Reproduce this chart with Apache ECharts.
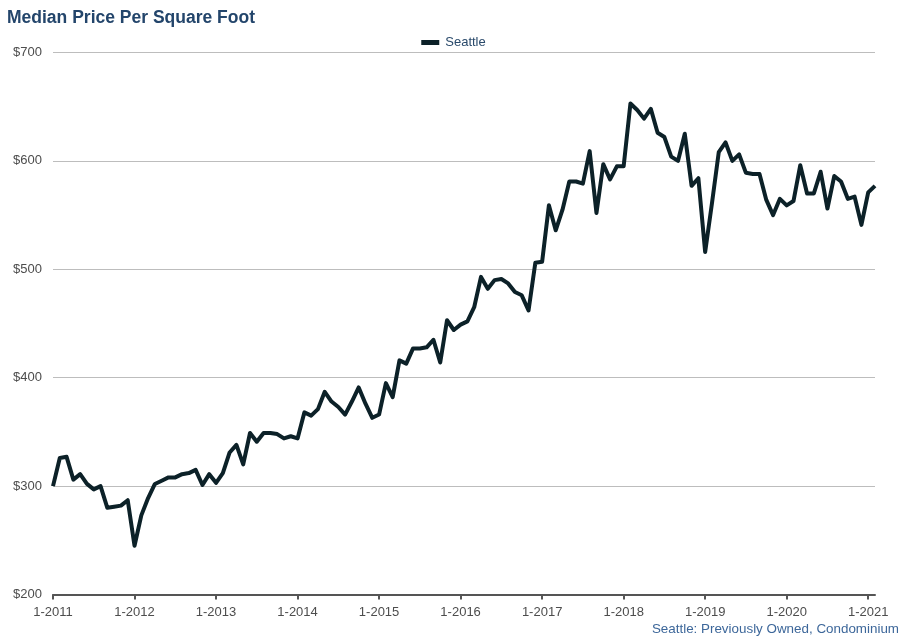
<!DOCTYPE html>
<html>
<head>
<meta charset="utf-8">
<script src="https://cdn.jsdelivr.net/npm/echarts@6/dist/echarts.min.js"></script>
<style>
html,body{margin:0;padding:0;background:#fff;}
#chart{width:907px;height:641px;}
</style>
</head>
<body>
<div id="chart"></div>
<script>
const tickLabels = ['1-2011','1-2012','1-2013','1-2014','1-2015','1-2016','1-2017','1-2018','1-2019','1-2020','1-2021'];
const startYear = 2011;
const v2011 = [300, 326, 327, 306, 311, 302, 297, 300, 280, 281, 282, 287];
const v2012 = [245, 273, 289, 302, 305, 308, 308, 311, 312, 315, 301, 311];
const v2013 = [303, 312, 331, 338, 320, 349, 341, 349, 349, 348, 344, 346];
const v2014 = [344, 368, 365, 371, 387, 378, 373, 366, 378, 391, 376, 363];
const v2015 = [366, 395, 382, 416, 413, 427, 427, 428, 435, 414, 453, 444];
const v2016 = [449, 452, 465, 493, 482, 490, 491, 487, 479, 476, 462, 506];
const v2017 = [507, 559, 536, 555, 581, 581, 579, 609, 552, 597, 583, 595];
const v2018 = [595, 653, 647, 639, 648, 626, 622, 604, 600, 625, 577, 584];
const v2019 = [516, 561, 608, 617, 600, 606, 589, 588, 588, 564, 550, 565];
const v2020 = [559, 563, 596, 570, 570, 590, 556, 586, 581, 565, 567, 541];
const v2021 = [571, 577];
const seriesName = 'Seattle';
const titleText = 'Median Price Per Square Foot';
const subtitleText = 'Seattle: Previously Owned, Condominium';

const values = [].concat(v2011, v2012, v2013, v2014, v2015, v2016, v2017, v2018, v2019, v2020, v2021);
const categories = values.map((_, i) => ((i % 12) + 1) + '-' + (startYear + Math.floor(i / 12)));
const isTick = (i) => tickLabels.indexOf(categories[i]) >= 0;

const chart = echarts.init(document.getElementById('chart'), null, {renderer: 'canvas'});
chart.setOption({
  animation: false,
  backgroundColor: '#fff',
  textStyle: {fontFamily: 'Liberation Sans, Arial, sans-serif'},
  title: [
    {text: titleText, left: 7, top: 9, padding: 0,
     textStyle: {fontSize: 17.5, fontWeight: 'bold', color: '#23456b', fontFamily: 'Liberation Sans, Arial, sans-serif'}},
    {text: subtitleText, right: 8, top: 623, padding: 0,
     textStyle: {fontSize: 13.4, fontWeight: 'normal', color: '#3d679a', fontFamily: 'Liberation Sans, Arial, sans-serif'}}
  ],
  legend: {
    data: [seriesName], top: 31, left: 'center',
    icon: 'rect', itemWidth: 18, itemHeight: 5, itemGap: 10,
    textStyle: {fontSize: 13, color: '#2a4a6b', padding: [0, 0, 0, 1]}
  },
  grid: {left: 53, right: 32, top: 52.5, bottom: 46.5, containLabel: false},
  xAxis: {
    type: 'category', data: categories, boundaryGap: false,
    axisLine: {show: true, lineStyle: {color: '#555', width: 2}},
    axisTick: {show: true, length: 5, lineStyle: {color: '#555', width: 2},
      interval: (i) => isTick(i)},
    axisLabel: {show: true, margin: 11, fontSize: 13, color: '#4d4d4d',
      interval: 0, hideOverlap: false,
      formatter: (v) => tickLabels.indexOf(v) >= 0 ? v : ''},
    splitLine: {show: false}
  },
  yAxis: {
    type: 'value', min: 200, max: 700, interval: 100,
    axisLine: {show: false}, axisTick: {show: false},
    axisLabel: {formatter: (v) => '$' + v, fontSize: 13, color: '#4d4d4d', margin: 11},
    splitLine: {lineStyle: {color: '#bdbdbd', width: 1}}
  },
  series: [{
    name: seriesName, type: 'line', data: values,
    showSymbol: false, symbol: 'none',
    lineStyle: {color: '#0c2128', width: 4, join: 'round'},
    itemStyle: {color: '#0c2128'}
  }]
});
</script>
</body>
</html>
